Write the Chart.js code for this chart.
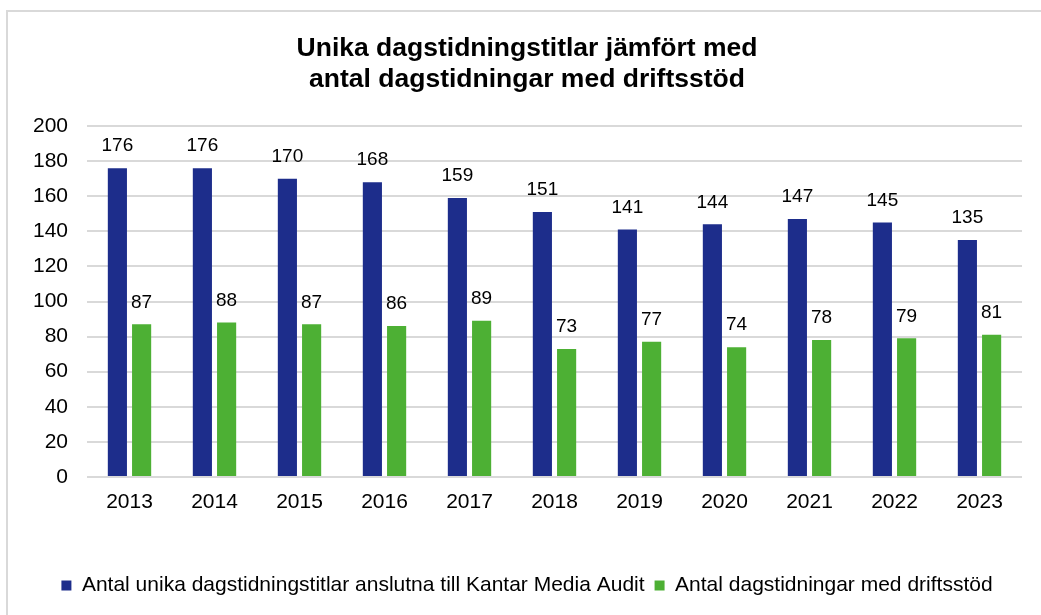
<!DOCTYPE html>
<html>
<head>
	<script src="https://cdn.jsdelivr.net/npm/chart.js@4.4.1/dist/chart.umd.min.js"></script>
	<title>Unika dagstidningstitlar</title>
	<style>
		body { margin: 0; background: #fff; }
		#wrap { position: relative; width: 1041px; height: 615px; overflow: hidden; }
		#frame { position: absolute; left: 6px; top: 10px; width: 1100px; height: 700px; border: 2px solid #d9d9d9; }
		#myChart { position: absolute; left: 0; top: 0; }
	</style>
</head>
<body>
	<div id="wrap">
		<div id="frame"></div>
		<canvas id="myChart" width="1041" height="615"></canvas>
	</div>
	<script type="text/javascript">
		const years = ['2013', '2014', '2015', '2016', '2017', '2018', '2019', '2020', '2021', '2022', '2023'];
		const unika_titlar = [176, 176, 170, 168, 159, 151, 141, 144, 147, 145, 135];
		const driftsstod = [87, 88, 87, 86, 89, 73, 77, 74, 78, 79, 81];
		const y_ticks = [0, 20, 40, 60, 80, 100, 120, 140, 160, 180, 200];

		const fontFamily = "'Liberation Sans', Arial, sans-serif";

		// value labels above each bar
		const barLabels = {
			id: 'barLabels',
			afterDatasetsDraw(chart) {
				const ctx = chart.ctx;
				ctx.save();
				ctx.font = '19px ' + fontFamily;
				ctx.fillStyle = '#000';
				ctx.textAlign = 'center';
				ctx.textBaseline = 'middle';
				chart.data.datasets.forEach((ds, i) => {
					chart.getDatasetMeta(i).data.forEach((bar, j) => {
						ctx.fillText(ds.data[j], bar.x, bar.y - 22);
					});
				});
				ctx.restore();
			}
		};

		const ctx = document.getElementById('myChart');
		const myChart = new Chart(ctx, {
			type: 'bar',
			data: {
				labels: years,
				datasets: [
					{
						label: 'Antal unika dagstidningstitlar anslutna till Kantar Media Audit',
						data: unika_titlar,
						backgroundColor: '#1d2d8b',
						borderWidth: 0,
						barPercentage: 0.79,
						categoryPercentage: 0.57
					},
					{
						label: 'Antal dagstidningar med driftsstöd',
						data: driftsstod,
						backgroundColor: '#4db034',
						borderWidth: 0,
						barPercentage: 0.79,
						categoryPercentage: 0.57
					}
				]
			},
			options: {
				responsive: false,
				animation: false,
				layout: { padding: { top: 0, left: 32, right: 19, bottom: 9 } },
				plugins: {
					title: {
						display: true,
						text: ['Unika dagstidningstitlar jämfört med', 'antal dagstidningar med driftsstöd'],
						color: '#000',
						font: { family: fontFamily, size: 26.5, weight: 'bold', lineHeight: 1.17 },
						padding: { top: 33.5, bottom: 30.5 }
					},
					legend: {
						position: 'bottom',
						labels: {
							color: '#000',
							font: { family: fontFamily, size: 21 },
							boxWidth: 10,
							boxHeight: 10,
							padding: 10
						}
					},
					tooltip: { enabled: false }
				},
				scales: {
					x: {
						grid: { display: false, drawTicks: false },
						border: { display: false },
						ticks: { color: '#000', font: { family: fontFamily, size: 21 }, padding: 13 },
						afterFit(s) { s.height = 88; }
					},
					y: {
						min: 0,
						max: 200,
						grid: { color: '#d9d9d9', lineWidth: 2, drawTicks: false },
						border: { display: false },
						afterBuildTicks(s) { s.ticks = y_ticks.map(v => ({ value: v })); },
						ticks: { color: '#000', font: { family: fontFamily, size: 21 }, padding: 19 },
						afterFit(s) { s.width = 55; }
					}
				}
			},
			plugins: [barLabels]
		});
	</script>
</body>
</html>
